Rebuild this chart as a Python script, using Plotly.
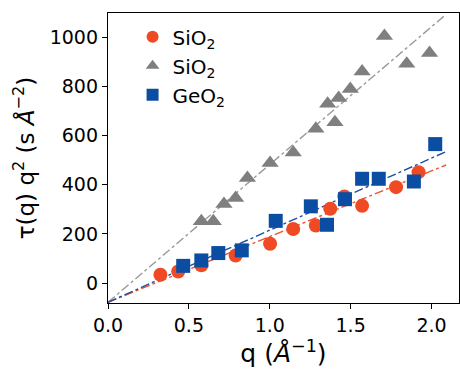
import plotly.graph_objects as go
import numpy as np

red_q = [0.324, 0.434, 0.577, 0.789, 1.002, 1.145, 1.285, 1.374, 1.461, 1.571, 1.781, 1.920]
red_y = [34, 47, 72, 112, 160, 220, 234, 302, 352, 314, 390, 451]

gray_q = [0.577, 0.651, 0.717, 0.789, 0.862, 1.002, 1.145, 1.285, 1.358, 1.403, 1.426, 1.498, 1.571, 1.709, 1.847, 1.988]
gray_y = [251, 251, 321, 346, 427, 488, 531, 627, 729, 654, 752, 789, 860, 1005, 892, 935]

blue_q = [0.465, 0.577, 0.682, 0.827, 1.037, 1.254, 1.354, 1.465, 1.571, 1.674, 1.891, 2.023]
blue_y = [70, 92, 122, 133, 253, 312, 237, 341, 424, 424, 413, 565]

fit_q = [0.0, 2.09]
fit_red = (267, -78)
fit_gray = (560, -78)
fit_blue = (293, -78)

RED = "#F04A25"
GRAY = "#7F7F7F"
BLUE = "#0B4DA2"

fig = go.Figure()

def line(params, color):
    a, b = params
    ys = [a * q + b for q in fit_q]
    fig.add_trace(go.Scatter(x=fit_q, y=ys, mode="lines", showlegend=False,
                             line=dict(color=color, width=1.4, dash="dashdot"),
                             hoverinfo="skip"))

line(fit_gray, "#999999")
line(fit_red, "#F0522B")
line(fit_blue, "#1F4DA8")

fig.add_trace(go.Scatter(x=red_q, y=red_y, mode="markers", name="SiO<sub>2</sub>",
                         marker=dict(symbol="circle", size=14, color=RED)))
fig.add_trace(go.Scatter(x=gray_q, y=gray_y, mode="markers", name="SiO<sub>2</sub>",
                         marker=dict(symbol="triangle-up", size=15, color=GRAY)))
fig.add_trace(go.Scatter(x=blue_q, y=blue_y, mode="markers", name="GeO<sub>2</sub>",
                         marker=dict(symbol="square", size=14, color=BLUE)))

axis_common = dict(showline=True, mirror=True, linecolor="black", linewidth=1.3,
                   ticks="outside", ticklen=5, tickwidth=1.2, tickcolor="black",
                   showgrid=False, zeroline=False,
                   tickfont=dict(family="DejaVu Sans", size=19, color="black"))

fig.update_layout(
    width=460, height=374,
    margin=dict(l=108, r=1, t=13, b=71),
    paper_bgcolor="white", plot_bgcolor="white",
    font=dict(family="DejaVu Sans", color="black"),
    xaxis=dict(range=[0, 2.17], tickvals=[0, 0.5, 1.0, 1.5, 2.0],
               ticktext=["0.0", "0.5", "1.0", "1.5", "2.0"],
               title=dict(text="q (<i>Å</i><sup>−1</sup>)", font=dict(size=25), standoff=2),
               **axis_common),
    yaxis=dict(range=[-81, 1098], tickvals=[0, 200, 400, 600, 800, 1000],
               title=dict(text="τ(q) q<sup>2</sup> (s <i>Å</i><sup>−2</sup>)", font=dict(size=23), standoff=8),
               **axis_common),
    legend=dict(x=0.07, y=0.985, xanchor="left", yanchor="top",
                font=dict(size=20, family="DejaVu Sans"),
                bgcolor="rgba(0,0,0,0)", tracegroupgap=0, itemsizing="constant"),
)

fig.write_html("out.html")
